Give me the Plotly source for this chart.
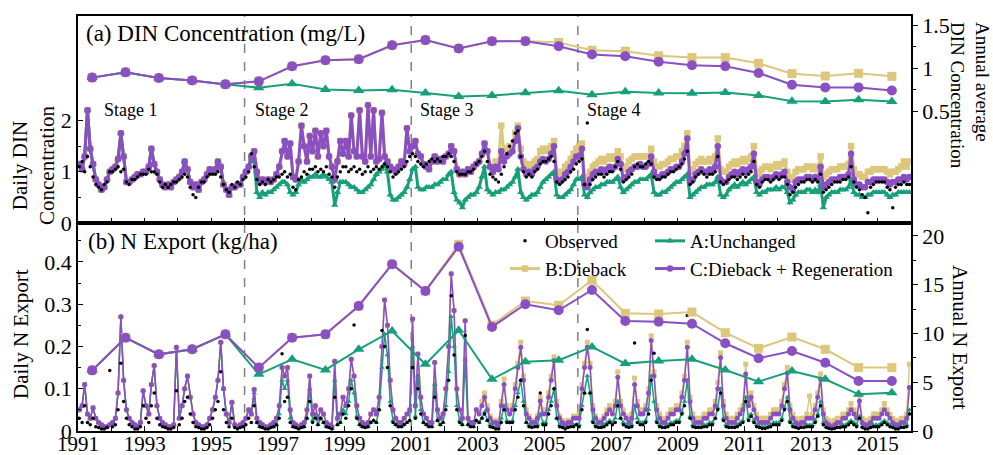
import plotly.graph_objects as go

# ---------------- data ----------------
years = list(range(1991, 2016))

din_c = [
    [1.15, 1.05, 1.3, 2.2, 1.45, 1.15, 0.85, 0.75, 0.65, 0.7, 0.85, 1.0],
    [1.05, 1.1, 1.25, 1.75, 1.3, 0.8, 0.8, 0.85, 0.9, 0.95, 0.95, 1.0],
    [1.0, 1.1, 1.45, 1.15, 1.0, 0.85, 0.75, 0.7, 0.75, 0.7, 0.8, 0.85],
    [0.9, 1.0, 1.2, 1.05, 0.8, 0.7, 0.75, 0.65, 0.8, 0.85, 0.95, 1.05],
    [1.0, 1.05, 1.2, 1.1, 0.75, 0.65, 0.55, 0.7, 0.7, 0.75, 0.75, 0.9],
    [1.0, 1.1, 1.3, 1.4, 1.0, 0.8, 0.85, 0.8, 0.85, 0.8, 0.85, 0.95],
    [1.1, 1.4, 1.6, 1.3, 1.55, 0.9, 0.85, 1.2, 1.9, 1.5, 1.2, 1.7],
    [1.4, 1.8, 1.3, 1.75, 1.5, 1.8, 1.3, 1.1, 0.85, 1.2, 1.6, 1.35],
    [1.6, 1.3, 2.1, 1.4, 1.3, 2.2, 1.3, 1.2, 2.3, 1.3, 2.2, 1.2],
    [1.25, 2.15, 1.3, 1.2, 1.1, 1.05, 1.0, 1.1, 1.2, 1.15, 1.85, 1.4],
    [1.5, 1.6, 1.35, 1.3, 1.15, 1.1, 1.05, 1.2, 1.3, 1.2, 1.25, 1.2],
    [1.3, 1.35, 1.5, 1.4, 1.05, 0.95, 1.0, 0.95, 1.05, 1.0, 1.1, 1.15],
    [1.2, 1.35, 1.55, 1.4, 1.1, 1.0, 1.1, 1.05, 1.4, 1.2, 1.3, 1.35],
    [1.4, 1.6, 1.85, 1.3, 1.05, 0.95, 1.0, 0.95, 1.05, 1.1, 1.2, 1.25],
    [1.2, 1.25, 1.35, 1.5, 0.85, 0.8, 0.85, 0.95, 1.0, 1.1, 1.2, 1.3],
    [1.3, 1.45, 0.75, 0.7, 0.85, 0.95, 1.0, 1.0, 1.05, 1.0, 1.05, 1.1],
    [1.05, 1.1, 1.25, 1.15, 0.85, 0.9, 1.0, 1.05, 1.1, 1.1, 1.15, 1.1],
    [1.1, 1.15, 1.3, 1.0, 0.9, 0.9, 0.95, 0.95, 1.0, 1.05, 1.05, 1.1],
    [1.1, 1.2, 1.35, 1.65, 0.8, 0.85, 0.95, 1.0, 1.05, 1.0, 1.0, 1.05],
    [1.0, 1.1, 1.5, 0.85, 0.8, 0.8, 0.9, 0.95, 1.0, 0.95, 1.0, 1.05],
    [1.0, 1.05, 1.1, 1.35, 0.8, 0.75, 0.85, 0.9, 0.9, 0.85, 0.9, 0.95],
    [0.9, 0.95, 1.0, 0.8, 0.7, 0.65, 0.8, 0.85, 0.85, 0.85, 0.9, 0.9],
    [0.85, 0.9, 0.85, 1.1, 0.7, 0.75, 0.8, 0.85, 0.85, 0.85, 0.9, 0.9],
    [0.9, 0.95, 1.35, 0.85, 0.75, 0.75, 0.7, 0.7, 0.8, 0.8, 0.85, 0.85],
    [0.85, 0.85, 0.85, 0.8, 0.75, 0.8, 0.8, 0.85, 0.85, 0.9, 0.85, 0.9],
]
# scenario A from 1996 on (identical to C before)
din_a_1996on = [
    [1.0, 1.1, 1.25, 1.2, 0.6, 0.5, 0.6, 0.55, 0.6, 0.6, 0.65, 0.7],
    [0.75, 0.8, 0.8, 0.75, 0.6, 0.55, 0.6, 0.75, 0.85, 0.8, 0.85, 0.9],
    [0.9, 0.95, 0.9, 0.9, 0.95, 0.9, 0.85, 0.8, 0.35, 0.6, 0.8, 0.8],
    [0.8, 0.75, 0.7, 0.7, 0.65, 0.6, 0.6, 0.65, 0.7, 0.75, 0.85, 0.95],
    [1.0, 1.05, 1.15, 1.0, 0.55, 0.45, 0.45, 0.5, 0.55, 0.6, 0.7, 0.85],
    [1.05, 1.1, 0.7, 0.65, 0.65, 0.7, 0.7, 0.7, 0.75, 0.75, 0.8, 0.85],
    [0.85, 0.95, 1.0, 0.6, 0.45, 0.4, 0.3, 0.45, 0.5, 0.55, 0.55, 0.6],
    [0.7, 0.9, 1.1, 0.65, 0.6, 0.55, 0.6, 0.6, 0.65, 0.65, 0.7, 0.75],
    [0.8, 0.9, 1.05, 0.6, 0.5, 0.45, 0.5, 0.55, 0.55, 0.6, 0.7, 0.8],
    [0.85, 0.9, 0.95, 1.0, 0.55, 0.5, 0.5, 0.55, 0.6, 0.65, 0.75, 0.85],
    [0.85, 0.9, 0.55, 0.5, 0.6, 0.65, 0.7, 0.7, 0.75, 0.75, 0.8, 0.8],
    [0.8, 0.85, 0.9, 0.7, 0.6, 0.65, 0.7, 0.75, 0.8, 0.8, 0.85, 0.85],
    [0.85, 0.9, 0.95, 0.6, 0.55, 0.55, 0.6, 0.6, 0.65, 0.7, 0.75, 0.8],
    [0.8, 0.85, 0.9, 0.95, 0.5, 0.55, 0.6, 0.65, 0.7, 0.7, 0.75, 0.75],
    [0.75, 0.8, 0.9, 0.55, 0.5, 0.55, 0.65, 0.7, 0.75, 0.7, 0.75, 0.8],
    [0.75, 0.8, 0.85, 0.9, 0.6, 0.55, 0.6, 0.6, 0.65, 0.65, 0.65, 0.7],
    [0.65, 0.7, 0.7, 0.6, 0.4, 0.45, 0.55, 0.6, 0.6, 0.6, 0.65, 0.65],
    [0.6, 0.65, 0.6, 0.75, 0.3, 0.5, 0.55, 0.6, 0.6, 0.6, 0.65, 0.65],
    [0.65, 0.7, 0.85, 0.6, 0.55, 0.55, 0.5, 0.5, 0.55, 0.55, 0.6, 0.6],
    [0.6, 0.6, 0.6, 0.55, 0.5, 0.55, 0.55, 0.6, 0.6, 0.6, 0.6, 0.6],
]
# scenario B from July 2003 on (identical to C before)
din_b_2003jul_on = [1.2, 1.15, 1.9, 1.35, 1.45, 1.5]
din_b_2004on = [
    [1.5, 1.75, 1.9, 1.45, 1.2, 1.1, 1.15, 1.1, 1.2, 1.25, 1.4, 1.45],
    [1.4, 1.45, 1.5, 1.6, 1.0, 0.95, 1.0, 1.1, 1.15, 1.25, 1.35, 1.45],
    [1.5, 1.55, 0.9, 0.85, 1.0, 1.1, 1.15, 1.2, 1.25, 1.2, 1.25, 1.3],
    [1.25, 1.3, 1.4, 1.3, 1.05, 1.1, 1.2, 1.25, 1.3, 1.3, 1.3, 1.3],
    [1.3, 1.3, 1.45, 1.2, 1.1, 1.1, 1.15, 1.15, 1.2, 1.25, 1.25, 1.3],
    [1.3, 1.4, 1.5, 1.75, 1.0, 1.05, 1.15, 1.2, 1.25, 1.2, 1.2, 1.25],
    [1.2, 1.3, 1.65, 1.05, 1.0, 1.0, 1.1, 1.15, 1.2, 1.15, 1.2, 1.25],
    [1.2, 1.25, 1.3, 1.5, 1.0, 0.95, 1.05, 1.1, 1.1, 1.05, 1.1, 1.15],
    [1.1, 1.15, 1.2, 1.0, 0.9, 0.85, 1.0, 1.05, 1.05, 1.05, 1.1, 1.1],
    [1.05, 1.1, 1.05, 1.3, 0.9, 0.95, 1.0, 1.05, 1.05, 1.05, 1.1, 1.1],
    [1.1, 1.15, 1.5, 1.05, 0.95, 0.95, 0.9, 0.9, 1.0, 1.0, 1.05, 1.05],
    [1.05, 1.05, 1.05, 1.0, 0.95, 1.0, 1.0, 1.05, 1.1, 1.2, 1.1, 1.2],
]
din_obs = [
    [1.1, 1.2, 1.0, 1.3, 1.1, 0.9, 0.75, 0.7, 0.65, 0.75, 0.8, 1.0],
    [1.0, 1.05, 1.1, 1.0, 1.05, 0.8, 0.75, 0.85, 0.85, 0.9, 0.95, 0.95],
    [0.95, 1.05, 1.0, 1.0, 0.95, 0.8, 0.7, 0.75, 0.7, 0.75, 0.8, 0.8],
    [0.85, 0.9, 0.95, 0.9, 0.7, 0.55, 0.5, 0.7, 0.8, 0.8, 0.9, 0.95],
    [0.95, 0.95, 1.0, 0.9, 0.75, 0.65, 0.6, 0.75, 0.7, 0.8, 0.75, 0.85],
    [0.9, 1.0, 1.35, 1.1, 0.85, 0.75, 0.8, 0.75, 0.85, 0.8, 0.85, 0.9],
    [0.9, 0.95, 1.0, 0.9, 0.95, 0.7, 0.65, 0.85, 0.9, 1.0, 0.95, 1.05],
    [1.05, 1.1, 1.0, 1.05, 1.0, 1.1, 0.95, 0.9, 0.7, 0.9, 1.0, 1.1],
    [1.1, 1.0, 1.05, 1.1, 1.0, 1.05, 0.95, 1.0, 1.1, 1.0, 1.05, 1.1],
    [1.05, 1.1, 1.15, 1.1, 1.0, 0.9, 0.95, 1.0, 1.05, 1.1, 1.2, 1.3],
    [1.35, 1.3, 1.2, 1.15, 1.1, 1.15, 1.2, 1.25, 1.2, 1.25, 1.2, 1.3],
    [1.3, 1.35, 1.3, 1.2, 1.0, 0.95, 0.95, 0.95, 1.0, 1.0, 1.05, 1.15],
    [1.2, 1.3, 1.4, 1.2, 0.95, 0.9, 0.85, 0.8, 0.95, 1.1, 1.35, 1.5],
    [1.6, 1.75, 1.8, 1.3, 1.0, 0.9, 0.95, 0.9, 1.0, 1.05, 1.15, 1.2],
    [1.2, 1.25, 1.3, 1.2, 0.8, 0.75, 0.8, 0.85, 0.9, 1.0, 1.05, 1.15],
    [1.2, 1.25, 0.75, 1.95, 0.75, 0.85, 0.9, 0.95, 0.95, 0.9, 0.95, 1.0],
    [1.0, 1.1, 1.2, 1.05, 0.8, 0.85, 0.9, 0.95, 1.1, 1.15, 1.1, 1.1],
    [1.15, 1.2, 1.15, 0.9, 0.85, 0.85, 0.9, 0.9, 0.95, 1.0, 1.0, 1.05],
    [1.1, 1.15, 1.25, 1.4, 0.75, 0.8, 0.9, 0.95, 1.0, 0.95, 0.9, 0.95],
    [0.95, 1.0, 1.3, 0.8, 0.75, 0.8, 0.85, 0.9, 0.9, 0.85, 0.9, 0.95],
    [0.9, 0.95, 1.0, 1.2, 0.75, 0.7, 0.8, 0.85, 0.85, 0.8, 0.85, 0.9],
    [0.85, 0.9, 0.9, 0.75, 0.55, 0.6, 0.7, 0.75, 0.8, 0.8, 0.85, 0.85],
    [0.8, 0.85, 0.8, 0.95, 0.6, 0.65, 0.7, 0.75, 0.8, 0.8, 0.8, 0.85],
    [0.85, 0.9, 1.1, 0.8, 0.7, 0.65, 0.55, 0.5, 0.2, 0.7, 0.75, 0.8],
    [0.8, 0.8, 0.8, 0.7, 0.65, 0.3, 0.7, 0.75, 0.75, 0.8, 0.75, 0.75],
]

# Panel (b) daily N export (kg/ha), sampled monthly
nex_c = [
    [0.05, 0.06, 0.11, 0.04, 0.03, 0.055, 0.03, 0.02, 0.015, 0.01, 0.01, 0.015],
    [0.02, 0.03, 0.09, 0.27, 0.12, 0.05, 0.03, 0.02, 0.015, 0.01, 0.02, 0.095],
    [0.06, 0.04, 0.11, 0.155, 0.06, 0.03, 0.02, 0.015, 0.01, 0.01, 0.015, 0.198],
    [0.03, 0.06, 0.1, 0.13, 0.08, 0.04, 0.02, 0.015, 0.01, 0.01, 0.015, 0.03],
    [0.05, 0.08, 0.12, 0.21, 0.1, 0.04, 0.02, 0.068, 0.015, 0.01, 0.015, 0.02],
    [0.03, 0.05, 0.04, 0.098, 0.03, 0.02, 0.015, 0.01, 0.01, 0.015, 0.02, 0.03],
    [0.06, 0.15, 0.13, 0.15, 0.05, 0.02, 0.015, 0.01, 0.015, 0.02, 0.05, 0.13],
    [0.04, 0.06, 0.03, 0.05, 0.04, 0.02, 0.015, 0.01, 0.165, 0.03, 0.04, 0.08],
    [0.06, 0.1, 0.17, 0.13, 0.06, 0.03, 0.02, 0.015, 0.02, 0.04, 0.05, 0.04],
    [0.08, 0.2, 0.31, 0.25, 0.12, 0.05, 0.03, 0.02, 0.02, 0.03, 0.04, 0.05],
    [0.265, 0.06, 0.182, 0.08, 0.04, 0.03, 0.02, 0.02, 0.162, 0.05, 0.03, 0.04],
    [0.1, 0.2, 0.372, 0.285, 0.1, 0.05, 0.03, 0.261, 0.03, 0.02, 0.02, 0.05],
    [0.04, 0.06, 0.08, 0.05, 0.03, 0.02, 0.02, 0.015, 0.06, 0.11, 0.05, 0.04],
    [0.05, 0.1, 0.15, 0.198, 0.12, 0.04, 0.03, 0.02, 0.02, 0.03, 0.071, 0.04],
    [0.04, 0.08, 0.12, 0.166, 0.06, 0.03, 0.02, 0.015, 0.02, 0.02, 0.03, 0.03],
    [0.03, 0.1, 0.15, 0.198, 0.15, 0.05, 0.03, 0.02, 0.02, 0.03, 0.04, 0.05],
    [0.04, 0.06, 0.127, 0.06, 0.04, 0.03, 0.02, 0.03, 0.11, 0.06, 0.04, 0.04],
    [0.05, 0.09, 0.214, 0.13, 0.05, 0.03, 0.02, 0.02, 0.03, 0.04, 0.04, 0.05],
    [0.05, 0.08, 0.12, 0.198, 0.07, 0.03, 0.02, 0.02, 0.02, 0.03, 0.03, 0.04],
    [0.04, 0.06, 0.1, 0.174, 0.06, 0.03, 0.02, 0.02, 0.02, 0.03, 0.04, 0.05],
    [0.135, 0.06, 0.08, 0.05, 0.03, 0.02, 0.02, 0.02, 0.02, 0.03, 0.04, 0.04],
    [0.04, 0.06, 0.1, 0.137, 0.05, 0.03, 0.02, 0.015, 0.02, 0.02, 0.03, 0.03],
    [0.03, 0.05, 0.08, 0.123, 0.04, 0.02, 0.015, 0.01, 0.015, 0.02, 0.02, 0.03],
    [0.03, 0.04, 0.05, 0.04, 0.03, 0.071, 0.02, 0.015, 0.015, 0.02, 0.03, 0.03],
    [0.03, 0.04, 0.05, 0.04, 0.03, 0.02, 0.015, 0.015, 0.02, 0.02, 0.03, 0.103],
]
nex_a_1996on = [
    [0.03, 0.05, 0.04, 0.09, 0.02, 0.01, 0.008, 0.006, 0.006, 0.008, 0.01, 0.015],
    [0.04, 0.12, 0.1, 0.12, 0.03, 0.01, 0.008, 0.006, 0.008, 0.01, 0.03, 0.1],
    [0.025, 0.04, 0.015, 0.03, 0.02, 0.01, 0.008, 0.006, 0.12, 0.015, 0.02, 0.05],
    [0.04, 0.07, 0.12, 0.09, 0.035, 0.015, 0.01, 0.008, 0.01, 0.02, 0.025, 0.02],
    [0.05, 0.15, 0.23, 0.18, 0.07, 0.025, 0.015, 0.01, 0.01, 0.015, 0.02, 0.025],
    [0.2, 0.035, 0.13, 0.05, 0.02, 0.015, 0.01, 0.01, 0.11, 0.025, 0.015, 0.02],
    [0.06, 0.14, 0.27, 0.2, 0.06, 0.025, 0.015, 0.17, 0.015, 0.01, 0.01, 0.025],
    [0.02, 0.03, 0.045, 0.025, 0.015, 0.01, 0.01, 0.008, 0.03, 0.06, 0.025, 0.02],
    [0.025, 0.06, 0.09, 0.12, 0.07, 0.02, 0.015, 0.01, 0.01, 0.015, 0.04, 0.02],
    [0.02, 0.05, 0.07, 0.1, 0.03, 0.015, 0.01, 0.008, 0.01, 0.01, 0.015, 0.015],
    [0.015, 0.06, 0.09, 0.13, 0.09, 0.025, 0.015, 0.01, 0.01, 0.015, 0.02, 0.025],
    [0.02, 0.03, 0.07, 0.03, 0.02, 0.015, 0.01, 0.015, 0.06, 0.03, 0.02, 0.02],
    [0.025, 0.05, 0.13, 0.07, 0.025, 0.015, 0.01, 0.01, 0.015, 0.02, 0.02, 0.025],
    [0.025, 0.045, 0.07, 0.12, 0.035, 0.015, 0.01, 0.01, 0.01, 0.015, 0.015, 0.02],
    [0.02, 0.03, 0.055, 0.1, 0.03, 0.015, 0.01, 0.01, 0.01, 0.015, 0.02, 0.025],
    [0.08, 0.03, 0.04, 0.025, 0.015, 0.01, 0.01, 0.01, 0.01, 0.015, 0.02, 0.02],
    [0.02, 0.03, 0.055, 0.08, 0.025, 0.015, 0.01, 0.008, 0.01, 0.01, 0.015, 0.015],
    [0.015, 0.025, 0.04, 0.07, 0.02, 0.01, 0.008, 0.006, 0.008, 0.01, 0.01, 0.015],
    [0.015, 0.02, 0.025, 0.02, 0.015, 0.035, 0.01, 0.008, 0.008, 0.01, 0.015, 0.015],
    [0.015, 0.02, 0.025, 0.02, 0.015, 0.01, 0.008, 0.008, 0.01, 0.01, 0.015, 0.05],
]
nex_b_2003on = [
    [0.05, 0.07, 0.09, 0.06, 0.035, 0.025, 0.025, 0.02, 0.07, 0.123, 0.06, 0.05],
    [0.06, 0.11, 0.16, 0.21, 0.13, 0.05, 0.035, 0.025, 0.025, 0.035, 0.08, 0.05],
    [0.05, 0.09, 0.13, 0.175, 0.07, 0.035, 0.025, 0.02, 0.025, 0.025, 0.035, 0.035],
    [0.04, 0.11, 0.16, 0.21, 0.16, 0.06, 0.035, 0.025, 0.025, 0.035, 0.05, 0.06],
    [0.05, 0.07, 0.14, 0.07, 0.05, 0.035, 0.03, 0.04, 0.125, 0.07, 0.05, 0.05],
    [0.06, 0.1, 0.225, 0.14, 0.06, 0.04, 0.03, 0.03, 0.04, 0.05, 0.05, 0.06],
    [0.06, 0.09, 0.13, 0.21, 0.08, 0.04, 0.03, 0.03, 0.03, 0.04, 0.04, 0.05],
    [0.05, 0.07, 0.115, 0.185, 0.07, 0.04, 0.03, 0.03, 0.03, 0.04, 0.05, 0.06],
    [0.158, 0.07, 0.09, 0.06, 0.04, 0.03, 0.03, 0.03, 0.03, 0.04, 0.05, 0.05],
    [0.05, 0.07, 0.11, 0.15, 0.06, 0.04, 0.03, 0.025, 0.03, 0.03, 0.04, 0.083],
    [0.04, 0.06, 0.09, 0.135, 0.05, 0.03, 0.025, 0.02, 0.025, 0.03, 0.03, 0.04],
    [0.04, 0.05, 0.065, 0.05, 0.04, 0.085, 0.03, 0.025, 0.025, 0.03, 0.04, 0.04],
    [0.04, 0.05, 0.065, 0.05, 0.04, 0.03, 0.025, 0.025, 0.03, 0.03, 0.04, 0.158],
]
nex_obs = [
    [0.03, 0.02, 0.06, 0.02, 0.015, 0.03, 0.01, 0.008, 0.005, 0.005, 0.008, 0.143],
    [0.01, 0.015, 0.05, 0.16, 0.07, 0.03, 0.015, 0.01, 0.005, 0.005, 0.01, 0.06],
    [0.03, 0.02, 0.06, 0.09, 0.03, 0.015, 0.01, 0.008, 0.005, 0.005, 0.008, 0.095],
    [0.015, 0.03, 0.07, 0.08, 0.04, 0.02, 0.01, 0.008, 0.005, 0.005, 0.008, 0.015],
    [0.03, 0.05, 0.07, 0.14, 0.05, 0.02, 0.01, 0.03, 0.008, 0.005, 0.008, 0.01],
    [0.015, 0.03, 0.02, 0.06, 0.02, 0.01, 0.008, 0.005, 0.005, 0.008, 0.01, 0.015],
    [0.03, 0.183, 0.07, 0.08, 0.02, 0.01, 0.008, 0.005, 0.008, 0.01, 0.03, 0.07],
    [0.02, 0.03, 0.015, 0.03, 0.02, 0.01, 0.008, 0.005, 0.08, 0.015, 0.02, 0.04],
    [0.03, 0.06, 0.1, 0.251, 0.03, 0.015, 0.01, 0.008, 0.01, 0.02, 0.025, 0.02],
    [0.05, 0.238, 0.2, 0.15, 0.06, 0.02, 0.015, 0.01, 0.01, 0.015, 0.02, 0.025],
    [0.15, 0.03, 0.1, 0.04, 0.02, 0.015, 0.01, 0.01, 0.08, 0.025, 0.015, 0.02],
    [0.05, 0.12, 0.32, 0.18, 0.05, 0.02, 0.015, 0.226, 0.015, 0.01, 0.01, 0.025],
    [0.02, 0.03, 0.04, 0.025, 0.01, 0.008, 0.005, 0.005, 0.02, 0.05, 0.02, 0.02],
    [0.02, 0.05, 0.08, 0.12, 0.06, 0.02, 0.01, 0.008, 0.01, 0.01, 0.09, 0.015],
    [0.015, 0.04, 0.06, 0.1, 0.03, 0.01, 0.008, 0.005, 0.008, 0.01, 0.01, 0.015],
    [0.01, 0.05, 0.09, 0.24, 0.09, 0.02, 0.01, 0.008, 0.008, 0.01, 0.015, 0.02],
    [0.015, 0.02, 0.06, 0.03, 0.015, 0.01, 0.008, 0.01, 0.208, 0.02, 0.015, 0.015],
    [0.02, 0.04, 0.12, 0.184, 0.02, 0.01, 0.008, 0.008, 0.01, 0.015, 0.015, 0.02],
    [0.02, 0.04, 0.06, 0.273, 0.03, 0.01, 0.008, 0.008, 0.008, 0.01, 0.01, 0.015],
    [0.015, 0.03, 0.05, 0.09, 0.025, 0.01, 0.008, 0.008, 0.008, 0.01, 0.015, 0.02],
    [0.07, 0.025, 0.035, 0.02, 0.01, 0.008, 0.006, 0.006, 0.008, 0.01, 0.015, 0.015],
    [0.015, 0.025, 0.05, 0.07, 0.02, 0.01, 0.008, 0.006, 0.008, 0.008, 0.01, 0.01],
    [0.01, 0.02, 0.035, 0.06, 0.015, 0.008, 0.006, 0.005, 0.006, 0.008, 0.008, 0.01],
    [0.01, 0.015, 0.02, 0.015, 0.01, 0.03, 0.008, 0.005, 0.005, 0.008, 0.01, 0.01],
    [0.01, 0.015, 0.02, 0.015, 0.01, 0.008, 0.005, 0.005, 0.008, 0.008, 0.01, 0.04],
]

# Annual values (right axes)
din_ann_a = [0.892, 0.953, 0.887, 0.86, 0.814, 0.776, 0.82, 0.756, 0.744, 0.752, 0.713, 0.674, 0.686,
             0.717, 0.74, 0.694, 0.729, 0.713, 0.71, 0.72, 0.686, 0.62, 0.616, 0.636, 0.616]
din_ann_b = [0.892, 0.953, 0.887, 0.86, 0.814, 0.849, 1.023, 1.093, 1.105, 1.267, 1.326, 1.229, 1.314,
             1.316, 1.299, 1.209, 1.198, 1.145, 1.124, 1.124, 1.058, 0.938, 0.91, 0.942, 0.907]
din_ann_c = [0.892, 0.953, 0.887, 0.86, 0.814, 0.849, 1.023, 1.093, 1.105, 1.267, 1.326, 1.229, 1.314,
             1.314, 1.256, 1.159, 1.14, 1.075, 1.035, 1.023, 0.946, 0.81, 0.779, 0.779, 0.744]
nex_ann_a = [6.22, 9.57, 7.86, 8.38, 9.91, 5.81, 7.35, 6.26, 8.38, 10.26, 6.84, 10.33, 5.3,
             7.11, 7.25, 8.62, 6.91, 7.18, 7.35, 6.26, 5.06, 6.15, 5.3, 3.76, 3.93]
nex_ann_b = [6.22, 9.57, 7.86, 8.38, 9.91, 6.5, 9.57, 9.91, 12.82, 17.1, 14.36, 19.15, 10.87,
             13.33, 12.89, 15.46, 12.07, 12.0, 12.2, 10.08, 8.48, 9.64, 8.38, 6.5, 6.5]
nex_ann_c = [6.22, 9.57, 7.86, 8.38, 9.91, 6.5, 9.57, 9.91, 12.82, 17.1, 14.36, 18.9, 10.67,
             13.0, 12.38, 14.46, 11.28, 11.21, 11.0, 9.0, 7.46, 8.2, 7.0, 5.13, 5.13]

stage_labels = ["Stage 1", "Stage 2", "Stage 3", "Stage 4"]
stage_breaks = ["1996-01-01", "2001-01-01", "2006-01-01"]
tick_years = list(range(1991, 2017))

# ---------------- assemble ----------------
def flat(rows):
    return [v for r in rows for v in r]

dates = [f"{y}-{m:02d}-15" for y in years for m in range(1, 13)]
ann_dates = [f"{y}-06-05" for y in years]

c_din = flat(din_c)
a_din = c_din[:5 * 12] + flat(din_a_1996on)
b_din = c_din[:12 * 12 + 6] + din_b_2003jul_on + flat(din_b_2004on)
o_din = flat(din_obs)
c_nex = flat(nex_c)
a_nex = c_nex[:5 * 12] + flat(nex_a_1996on)
b_nex = c_nex[:12 * 12] + flat(nex_b_2003on)
o_nex = flat(nex_obs)

PURPLE = "#8a4fc2"
GREEN = "#16a07a"
TAN = "#dcc77c"
FONT = "Liberation Serif"

# plot-area geometry (pixels) used to place paper-referenced text
L, R, T, B = 78, 911, 16, 431
def px(xp):
    return (xp - L) / (R - L)
def py(yp):
    return (B - yp) / (B - T)

fig = go.Figure()

def daily(x, y, xa, ya, color, sym, name, legend, show, lw, ms):
    fig.add_trace(go.Scatter(
        x=x, y=y, xaxis=xa, yaxis=ya, mode="lines+markers", name=name,
        line=dict(color=color, width=lw),
        marker=dict(color=color, size=ms, symbol=sym),
        legend=legend, showlegend=show))

# panel a daily
daily(dates, b_din, "x", "y", TAN, "square", "B:Dieback", "legend", True, 3, 6.5)
daily(dates, a_din, "x", "y", GREEN, "triangle-up", "A:Unchanged", "legend2", True, 3, 6.5)
daily(dates, c_din, "x", "y", PURPLE, "circle", "C:Dieback + Regeneration", "legend2", True, 3, 6.5)
fig.add_trace(go.Scatter(x=dates, y=o_din, xaxis="x", yaxis="y", mode="markers", name="Observed",
                         marker=dict(color="black", size=3.5), legend="legend", legendrank=1))
# panel b daily
daily(dates, b_nex, "x2", "y3", TAN, "square", "B", "legend", False, 1.5, 5)
daily(dates, a_nex, "x2", "y3", GREEN, "triangle-up", "A", "legend2", False, 1.5, 5)
daily(dates, c_nex, "x2", "y3", PURPLE, "circle", "C", "legend2", False, 1.5, 5)
fig.add_trace(go.Scatter(x=dates, y=o_nex, xaxis="x2", yaxis="y3", mode="markers", showlegend=False,
                         marker=dict(color="black", size=3.5)))

def annual(y, xa, ya, color, sym, size):
    fig.add_trace(go.Scatter(x=ann_dates, y=y, xaxis=xa, yaxis=ya, mode="lines+markers",
                             line=dict(color=color, width=2), showlegend=False,
                             marker=dict(color=color, size=size, symbol=sym)))

annual(din_ann_b, "x", "y2", TAN, "square", 9)
annual(din_ann_a, "x", "y2", GREEN, "triangle-up", 10)
annual(din_ann_c, "x", "y2", PURPLE, "circle", 10)
annual(nex_ann_b, "x2", "y4", TAN, "square", 9)
annual(nex_ann_a, "x2", "y4", GREEN, "triangle-up", 10)
annual(nex_ann_c, "x2", "y4", PURPLE, "circle", 10)

tickvals_x = [f"{y}-01-01" for y in tick_years]
ticktext_x = [str(y) if (y - 1991) % 2 == 0 else "" for y in tick_years]
axis_common = dict(showline=True, linecolor="black", linewidth=1.5, showgrid=False, zeroline=False,
                   automargin=False, tickcolor="black")
tickfont = dict(family=FONT, size=22, color="black")

SPLIT = py(223)
xr = ["1991-01-01", "2016-01-01"]
fig.update_layout(
    width=993, height=455,
    margin=dict(l=L, r=993 - R, t=T, b=455 - B),
    paper_bgcolor="white", plot_bgcolor="white",
    font=dict(family=FONT, size=20, color="black"),
    xaxis=dict(domain=[0, 1], anchor="y", range=xr, tickvals=tickvals_x, ticktext=[""] * len(tick_years),
               ticks="inside", ticklen=5, mirror=True, tickfont=tickfont, **axis_common),
    xaxis2=dict(domain=[0, 1], anchor="y3", range=xr, tickvals=tickvals_x, ticktext=ticktext_x,
                ticks="inside", ticklen=5, mirror=True, ticklabelstandoff=-7,
                tickfont=dict(family=FONT, size=21, color="black"), **axis_common),
    yaxis=dict(domain=[SPLIT, 1], anchor="x", range=[0, 4.04], tickvals=[0, 1, 2], ticktext=["0", "1", "2"],
               ticks="inside", ticklen=5, tickfont=tickfont,
               minor=dict(tickvals=[0.5, 1.5], ticklen=3, ticks="inside", tickcolor="black"), **axis_common),
    yaxis2=dict(overlaying="y", side="right", anchor="x", range=[-0.79, 1.605], tickvals=[0.5, 1, 1.5],
                ticktext=["0.5", "1", "1.5"], ticks="outside", ticklen=5, tickfont=tickfont,
                minor=dict(tickvals=[0.75, 1.25], ticklen=3, ticks="outside", tickcolor="black"), **axis_common),
    yaxis3=dict(domain=[0, SPLIT], anchor="x2", range=[0, 0.492], tickvals=[0, 0.1, 0.2, 0.3, 0.4],
                ticktext=["0", "0.1", "0.2", "0.3", "0.4"], ticks="inside", ticklen=5, tickfont=tickfont,
                minor=dict(tickvals=[0.05, 0.15, 0.25, 0.35, 0.45], ticklen=3, ticks="inside", tickcolor="black"),
                **axis_common),
    yaxis4=dict(overlaying="y3", side="right", anchor="x2", range=[0, 21.33], tickvals=[0, 5, 10, 15, 20],
                ticktext=["0", "5", "10", "15", "20"], ticks="outside", ticklen=5, tickfont=tickfont,
                minor=dict(tickvals=[2.5, 7.5, 12.5, 17.5], ticklen=3, ticks="outside", tickcolor="black"),
                **axis_common),
    legend=dict(x=px(505), y=py(222), xanchor="left", yanchor="top", bgcolor="rgba(0,0,0,0)",
                font=dict(family=FONT, size=19), tracegroupgap=0, itemwidth=30,
                traceorder="normal"),
    legend2=dict(x=px(650), y=py(222), xanchor="left", yanchor="top", bgcolor="rgba(0,0,0,0)",
                 font=dict(family=FONT, size=19), tracegroupgap=0, itemwidth=30,
                 traceorder="normal"),
)

# stage separators
for sb in stage_breaks:
    fig.add_shape(type="line", x0=sb, x1=sb, xref="x", yref="paper", y0=0, y1=1,
                  line=dict(color="#808080", width=1.5, dash="dash"), layer="below")

stage_x = ["1991-09-20", "1996-04-01", "2001-03-15", "2006-03-20"]
for lab, sx in zip(stage_labels, stage_x):
    fig.add_annotation(x=sx, y=2.2, xref="x", yref="y", text=lab, showarrow=False,
                       xanchor="left", yanchor="middle", font=dict(family=FONT, size=18))

# panel titles
fig.add_annotation(x=px(84), y=py(33), xref="paper", yref="paper", text="(a) DIN Concentration (mg/L)",
                   showarrow=False, xanchor="left", yanchor="middle", font=dict(family=FONT, size=23))
fig.add_annotation(x=px(86), y=py(241), xref="paper", yref="paper", text="(b) N Export (kg/ha)",
                   showarrow=False, xanchor="left", yanchor="middle", font=dict(family=FONT, size=23))

# axis titles
fig.add_annotation(x=px(33), y=py(166), xref="paper", yref="paper", text="Daily DIN<br>Concentration",
                   showarrow=False, textangle=-90, xanchor="center", yanchor="middle",
                   font=dict(family=FONT, size=21))
fig.add_annotation(x=px(21), y=py(334), xref="paper", yref="paper", text="Daily N Export",
                   showarrow=False, textangle=-90, xanchor="center", yanchor="middle",
                   font=dict(family=FONT, size=21))
fig.add_annotation(x=px(970), y=py(95), xref="paper", yref="paper",
                   text="Annual average<br>DIN Concentration", align="left",
                   showarrow=False, textangle=90, xanchor="center", yanchor="middle",
                   font=dict(family=FONT, size=19))
fig.add_annotation(x=px(960), y=py(337), xref="paper", yref="paper", text="Annual N Export",
                   showarrow=False, textangle=90, xanchor="center", yanchor="middle",
                   font=dict(family=FONT, size=21))

fig.write_html("out.html")
